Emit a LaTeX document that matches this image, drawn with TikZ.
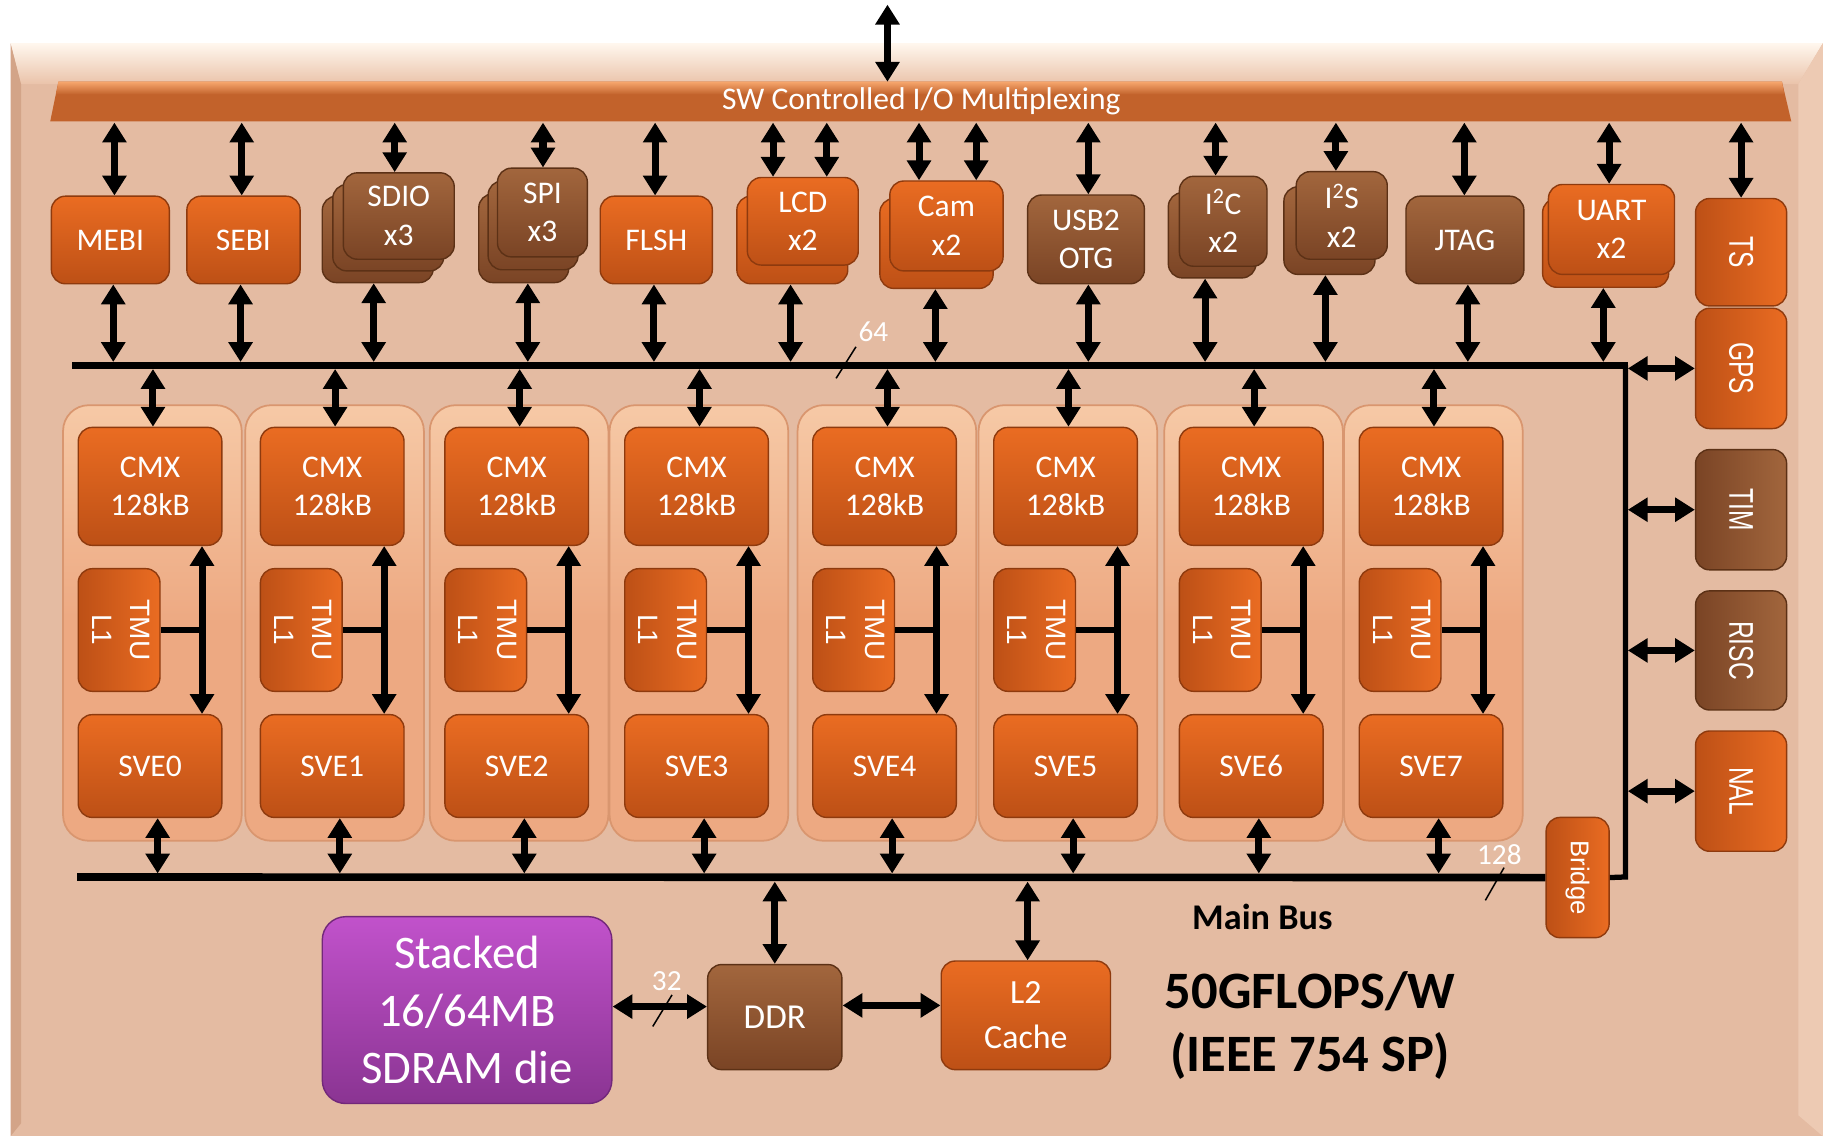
\documentclass[tikz,border=0pt]{standalone}
\usepackage{fontspec}
\setmainfont{Carlito}
\newfontfamily\arialf{Liberation Sans}
\usetikzlibrary{arrows.meta}
\definecolor{panel}{HTML}{E4BBA2}
\definecolor{bevTop}{HTML}{FFF7EE}
\definecolor{bevBot}{HTML}{EAC3AA}
\definecolor{bevL}{HTML}{D3A488}
\definecolor{bevR}{HTML}{EDCAB3}
\definecolor{orT}{HTML}{EA6C22}
\definecolor{orB}{HTML}{BD5016}
\definecolor{orD}{HTML}{8E3A0E}
\definecolor{brT}{HTML}{A2663D}
\definecolor{brB}{HTML}{7A4425}
\definecolor{brD}{HTML}{5C3116}
\definecolor{puT}{HTML}{C152CB}
\definecolor{puB}{HTML}{8A3492}
\definecolor{puD}{HTML}{72287A}
\definecolor{tileC}{HTML}{EDA982}
\definecolor{tileD}{HTML}{D9966F}
\definecolor{tileL}{HTML}{F6C9A6}
\definecolor{muxC}{HTML}{C2622B}
\definecolor{muxL}{HTML}{F6A66D}
\newcommand\tmulab{\rotatebox{-90}{\arialf\fontsize{24}{33}\selectfont\begin{tabular}{@{}c@{}}TMU\\L1\end{tabular}}}
\newcommand\sidelab[2]{\rotatebox{-90}{\scalebox{1}[#1]{\arialf\fontsize{21}{24}\selectfont #2}}}
\newcommand\upA[2]{\draw[dar, shorten <=1pt] ([xshift=#2pt]#1.north |- muxb) -- ([xshift=#2pt]#1.north);}
\newcommand\dnA[2]{\draw[dar, shorten >=3pt] ([xshift=#2pt]#1.south) -- ([xshift=#2pt]#1.south |- tbL);}
\begin{document}
\begin{tikzpicture}[x=1pt,y=-1pt,
  box/.style={rounded corners=12pt, line width=1.2pt, text=white, align=center, inner sep=0pt, font=\fontsize{27}{33}\selectfont},
  obox/.style={box, draw=orD, top color=orT, bottom color=orB},
  bbox/.style={box, draw=brD, top color=brT, bottom color=brB},
  ohbox/.style={box, draw=orD, left color=orB, right color=orT},
  bhbox/.style={box, draw=brD, left color=brB, right color=brT},
  pbox/.style={box, rounded corners=20pt, draw=puD, top color=puT, bottom color=puB},
  tile/.style={rounded corners=22pt, draw=tileD, line width=1.5pt, top color=tileL, bottom color=tileC, middle color=tileC},
  sz/.style 2 args={minimum width=#1pt, minimum height=#2pt},
  dar/.style={{Triangle[width=20pt,length=17pt]}-{Triangle[width=20pt,length=17pt]}, line width=6pt},
  bus/.style={line width=6.5pt},
  lab/.style={text=white, font=\fontsize{25}{30}\selectfont, inner sep=0pt},
  slashmk/.style={line width=1.3pt}
]
\useasboundingbox (0,0) rectangle (1568,973);
\fill[white] (0,0) rectangle (1568,973);
% chip panel
\fill[panel] (9,37) -- (1561,37) -- (1561,973) -- (9,973) -- cycle;
\shade[top color=bevTop, bottom color=bevBot] (9,37) -- (1561,37) -- (1540,72) -- (18,72) -- cycle;
\fill[bevL] (9,37) -- (18,72) -- (18,962) -- (9,973) -- cycle;
\fill[bevR] (1561,37) -- (1540,72) -- (1540,955) -- (1561,973) -- cycle;
% mux bar
\fill[muxC] (50,70) -- (1526,70) -- (1534,104) -- (43,104) -- cycle;
\shade[top color=muxL, bottom color=muxC] (50,70) -- (1526,70) -- (1528,81) -- (48,81) -- cycle;
\node[text=white, font=\fontsize{27}{32}\selectfont, inner sep=0pt] (muxtxt) at (789,87) {SW Controlled I/O Multiplexing};
\coordinate (muxb) at (0,104);
\coordinate (muxt) at (760,70);
\coordinate (ext) at (760,4);
% bus coordinates
\coordinate (tbL) at (62,313);
\coordinate (tbR) at (1392,313);
\coordinate (mbL) at (66,751);
\coordinate (mbR) at (1392,751);
% top row peripherals
\node[obox, sz={101}{75}] (mebi) at (94.5,205.5) {MEBI};
\node[obox, sz={97}{75}] (sebi) at (208.5,205.5) {SEBI};
\node[bbox, sz={95}{74}] (sdioC) at (323.5,205) {};
\node[bbox, sz={95}{74}] (sdioB) at (332.5,195) {};
\node[bbox, sz={95}{74}] (sdio) at (341.5,185) {SDIO\\x3};
\node[bbox, sz={77}{76}] (spiC) at (448.5,204) {};
\node[bbox, sz={77}{76}] (spiB) at (456.5,193) {};
\node[bbox, sz={77}{76}] (spi) at (464.5,182) {SPI\\x3};
\node[obox, sz={96}{75}] (flsh) at (562,205.5) {FLSH};
\node[obox, sz={95}{75}] (lcdB) at (678.5,205.5) {};
\node[obox, sz={95}{75}] (lcd) at (687.5,189.5) {LCD\\x2};
\node[obox, sz={97}{77}] (camB) at (802,208.5) {};
\node[obox, sz={97}{77}] (cam) at (810.5,193.5) {Cam\\x2};
\node[bbox, sz={100}{76}] (usb) at (930,205) {USB2\\OTG};
\node[bbox, sz={75}{73}] (i2cB) at (1038,201.5) {};
\node[bbox, sz={75}{77}] (i2c) at (1047.5,189.5) {I\textsuperscript{2}C\\x2};
\node[bbox, sz={78}{75}] (i2sB) at (1138.5,197.5) {};
\node[bbox, sz={78}{75}] (i2s) at (1149,184.5) {I\textsuperscript{2}S\\x2};
\node[bbox, sz={101}{75}] (jtag) at (1254.5,205.5) {JTAG};
\node[obox, sz={108}{76}] (uartB) at (1375,208) {};
\node[obox, sz={108}{77}] (uart) at (1380,196.5) {UART\\x2};
% right column
\node[ohbox, sz={78}{92}] (ts) at (1491,216) {\sidelab{1.4}{TS}};
\node[ohbox, sz={78}{103}] (gps) at (1491,315.5) {\sidelab{1.4}{GPS}};
\node[bhbox, sz={78}{103}] (tim) at (1491,436.5) {\sidelab{1.4}{TIM}};
\node[bhbox, sz={78}{102}] (risc) at (1491,557) {\sidelab{1.4}{RISC}};
\node[ohbox, sz={78}{103}] (nal) at (1491,677.5) {\sidelab{1.4}{NAL}};
\node[ohbox, sz={54}{103}] (bridge) at (1351,751.5) {\rotatebox{-90}{\arialf\fontsize{22}{25}\selectfont Bridge}};
% buses
\draw[line width=4.5pt, line join=miter] (tbR) -- (mbR) -- (bridge.east);
\draw[bus] (tbL) -- ([xshift=2pt]tbR);
\draw[bus] (mbL) -- (bridge.west);
% SHAVE tiles
\foreach \i/\x in {0/54,1/210,2/368,3/522,4/683,5/838,6/997,7/1151}{
  \node[tile, sz={153}{373}] (tile\i) at (\x+76.5,533.5) {};
  \node[obox, sz={123}{101}] (cmx\i) at (\x+74.5,416.5) {CMX\\128kB};
  \node[ohbox, sz={70}{105}] (tmu\i) at (\x+48,539.5) {\tmulab};
  \node[obox, sz={123}{88}] (sve\i) at (\x+74.5,656) {SVE\i};
  \coordinate (ax\i) at ([xshift=44.5pt]cmx\i.south);
  \draw[dar] (ax\i) -- (ax\i |- sve\i.north);
  \draw[line width=5.5pt] (tmu\i.east) -- (tmu\i.east -| ax\i);
  \draw[dar, shorten <=3pt] ([xshift=2.5pt]cmx\i.north |- tbL) -- ([xshift=2.5pt]cmx\i.north);
  \draw[dar, shorten >=3pt] ([xshift=6.5pt]sve\i.south) -- ([xshift=6.5pt]sve\i.south |- mbL);
}
% external arrow
\draw[dar] (ext) -- (muxt);
% mux to peripherals
\upA{mebi}{3.5}
\upA{sebi}{-1.5}
\upA{sdio}{-3.5}
\upA{spi}{0.5}
\upA{flsh}{-1}
\upA{lcd}{-25.5}
\upA{lcd}{20.5}
\upA{cam}{-23.5}
\upA{cam}{25.5}
\upA{usb}{2}
\upA{i2c}{-6.5}
\upA{i2s}{-5}
\upA{jtag}{-0.5}
\upA{uart}{-2}
\upA{ts}{0}
% peripherals to bus
\dnA{mebi}{2.5}
\dnA{sebi}{-2.5}
\dnA{sdioC}{-3.5}
\dnA{spiC}{3.5}
\dnA{flsh}{-2}
\dnA{lcdB}{-1.5}
\dnA{camB}{-1}
\dnA{usb}{2}
\dnA{i2cB}{-6}
\dnA{i2sB}{-3.5}
\dnA{jtag}{2.5}
\dnA{uartB}{-2}
% side arrows
\foreach \n in {gps,tim,risc,nal}{
  \draw[dar, shorten <=2pt] (\n.west -| tbR) -- (\n.west);
}
% memory
\node[pbox, sz={248}{160}, font=\fontsize{40}{49}\selectfont] (stk) at (400,865) {Stacked\\16/64MB\\SDRAM die};
\node[bbox, sz={115}{90}, font=\fontsize{30}{34}\selectfont] (ddr) at (663.5,871) {DDR};
\node[obox, sz={145}{93}, font=\fontsize{29}{38.5}\selectfont] (l2) at (878.5,869.5) {L2\\Cache};
\draw[dar, shorten <=4pt] (ddr.north |- mbL) -- (ddr.north);
\draw[dar, shorten <=4pt] ([xshift=1.5pt]l2.north |- mbL) -- ([xshift=1.5pt]l2.north);
\draw[dar] ([yshift=3pt]stk.east) -- ([yshift=3pt]stk.east -| ddr.west);
\draw[dar] ([yshift=10pt]ddr.east) -- ([yshift=10pt]ddr.east -| l2.west);
% bus width labels
\node[lab] (w64) at (748,284) {64};
\draw[slashmk] (716,324) -- (733,297);
\node[lab] (w128) at (1284,732) {128};
\draw[slashmk] (1272,771) -- (1288,743);
\node[lab] (w32) at (571,840) {32};
\draw[slashmk] (559,879) -- (575.5,852);
% texts
\node[font=\bfseries\fontsize{31}{36}\selectfont, inner sep=0pt] (mainbus) at (1081,785) {Main Bus};
\node[font=\bfseries\fontsize{45}{54}\selectfont, align=center, inner sep=0pt] (perf) at (1122,878) {50GFLOPS/W\\(IEEE 754 SP)};
\end{tikzpicture}
\end{document}
